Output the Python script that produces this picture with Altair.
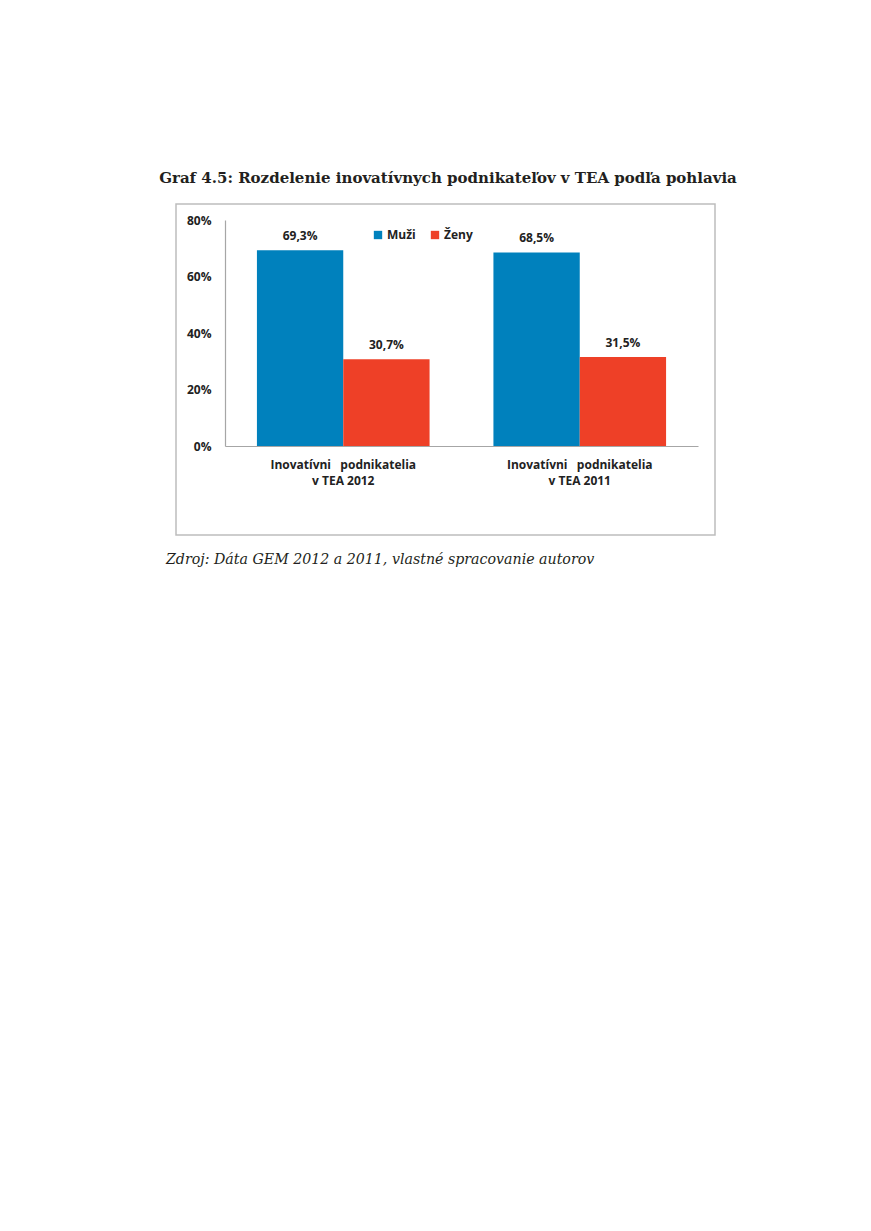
import altair as alt
import pandas as pd

# ---- data ----
groups = ["Inovatívni\u00a0\u00a0\u00a0podnikatelia|v TEA 2012",
          "Inovatívni\u00a0\u00a0\u00a0podnikatelia|v TEA 2011"]
series = ["Muži", "Ženy"]
muzi = [0.693, 0.685]
zeny = [0.307, 0.315]
y_ticks = [0, 0.2, 0.4, 0.6, 0.8]
colors = ["#0081BD", "#EE4027"]
title_text = "Graf 4.5: Rozdelenie inovatívnych podnikateľov v TEA podľa pohlavia"
source_text = "Zdroj: Dáta GEM 2012 a 2011, vlastné spracovanie autorov"

rows = []
for g, m, z in zip(groups, muzi, zeny):
    for s, v in zip(series, [m, z]):
        rows.append({"group": g, "series": s, "value": v,
                     "label": f"{v * 100:.1f}%".replace(".", ",")})
df = pd.DataFrame(rows)

FONT = "Open Sans"
SERIF = "DejaVu Serif"

base = alt.Chart(df)

x_enc = alt.X("group:N", sort=groups,
              scale=alt.Scale(paddingInner=0.27, paddingOuter=0.135),
              axis=alt.Axis(title=None, labelAngle=0, ticks=False,
                            labelExpr="split(datum.label, '|')",
                            labelFont=FONT, labelFontSize=12, labelFontWeight="bold",
                            labelColor="#222222", labelPadding=13, labelLineHeight=16,
                            domainColor="#A6A6A6", domainWidth=1.2))
xo_enc = alt.XOffset("series:N", sort=series)
y_enc = alt.Y("value:Q", scale=alt.Scale(domain=[0, 0.8]),
              axis=alt.Axis(title=None, values=y_ticks, format=".0%", grid=False,
                            ticks=False, labelFont=FONT, labelFontSize=12,
                            labelFontWeight="bold", labelColor="#222222",
                            labelPadding=14, domainColor="#A6A6A6", domainWidth=1.2))

bars = base.mark_bar().encode(
    x=x_enc, xOffset=xo_enc, y=y_enc,
    color=alt.Color("series:N", sort=series,
                    scale=alt.Scale(domain=series, range=colors),
                    legend=alt.Legend(title=None, orient="none", legendX=147, legendY=9,
                                      direction="horizontal", symbolType="square",
                                      symbolSize=70, symbolStrokeWidth=0,
                                      labelFont=FONT, labelFontSize=12,
                                      labelFontWeight="bold", labelColor="#222222",
                                      columnPadding=13, labelOffset=3)),
)

labels = base.mark_text(dy=-14, font=FONT, fontSize=12, fontWeight="bold",
                        color="#222222").encode(
    x=alt.X("group:N", sort=groups), xOffset=xo_enc, y=alt.Y("value:Q"), text="label:N")

one = alt.Chart(pd.DataFrame({"a": [0]}))
box = one.mark_rect(filled=False, stroke="#BDBDBD", strokeWidth=1.5).encode(
    x=alt.value(-49), x2=alt.value(490), y=alt.value(-16), y2=alt.value(315))

title = one.mark_text(font=SERIF, fontSize=15, fontWeight="bold",
                      color="#231F20", align="center", baseline="middle").encode(
    x=alt.value(223), y=alt.value(-42), text=alt.value(title_text))

source = one.mark_text(font=SERIF, fontSize=14.2, fontStyle="italic",
                       color="#231F20", align="left", baseline="middle").encode(
    x=alt.value(-59), y=alt.value(340), text=alt.value(source_text))

chart = alt.layer(box, bars, labels, title, source).properties(
    width=473, height=226,
    autosize=alt.AutoSizeParams(type="none"),
    padding={"left": 217, "top": 212, "right": 165, "bottom": 760},
).configure_view(stroke=None)

chart.save("out.html", embed_options={"renderer": "svg", "actions": False})
